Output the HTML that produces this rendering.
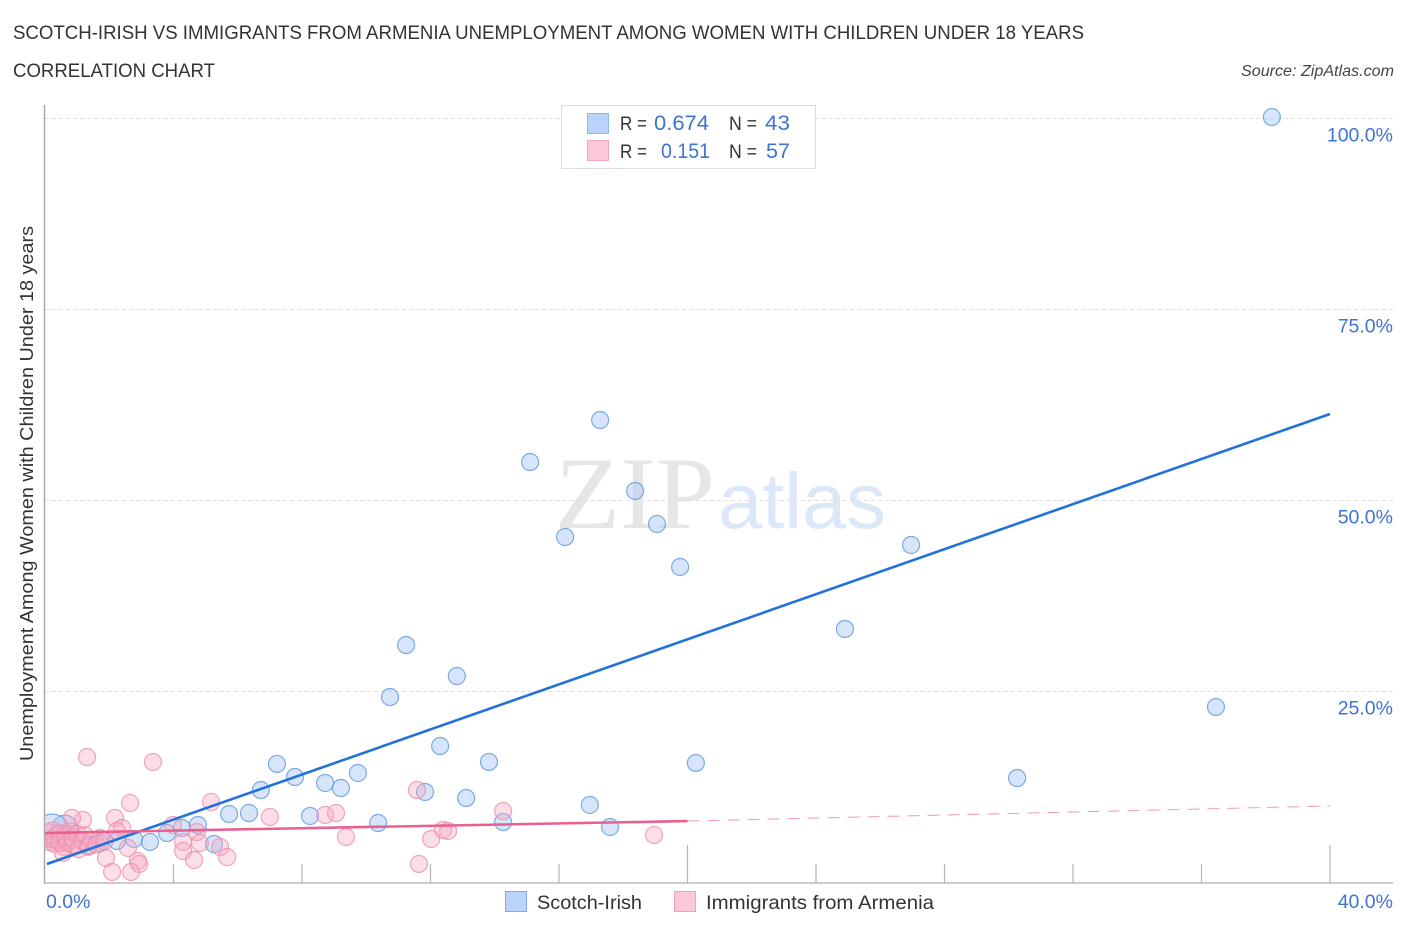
<!DOCTYPE html>
<html lang="en">
<head>
<meta charset="utf-8">
<title>Scotch-Irish vs Immigrants from Armenia Correlation Chart</title>
<style>
html,body{margin:0;padding:0;background:#fff;}
svg{display:block;font-family:"Liberation Sans",sans-serif;}
</style>
</head>
<body>
<svg id="chart" width="1406" height="930" viewBox="0 0 1406 930" xmlns="http://www.w3.org/2000/svg">
  <defs>
    <clipPath id="plot-clip"><rect x="45" y="100" width="1348" height="783"/></clipPath>
  </defs>
  <rect width="1406" height="930" fill="#fff"/>
  <text x="13" y="39" font-size="19" fill="#333" textLength="1071" lengthAdjust="spacingAndGlyphs">SCOTCH-IRISH VS IMMIGRANTS FROM ARMENIA UNEMPLOYMENT AMONG WOMEN WITH CHILDREN UNDER 18 YEARS</text>
  <text x="13" y="77" font-size="19" fill="#333" textLength="202" lengthAdjust="spacingAndGlyphs">CORRELATION CHART</text>
  <text x="1394" y="76" font-size="15.5" font-style="italic" fill="#444" text-anchor="end" textLength="153" lengthAdjust="spacingAndGlyphs">Source: ZipAtlas.com</text>

  <text x="555" y="528" font-family="'Liberation Serif',serif" font-size="103" fill="#e6e6e6" textLength="160" lengthAdjust="spacingAndGlyphs">ZIP</text>
  <text x="718" y="528" font-size="79" fill="#dce8f8" textLength="168" lengthAdjust="spacingAndGlyphs">atlas</text>

  <g id="grid"></g>
  <g id="axes"></g>
  <g id="blue-points" clip-path="url(#plot-clip)"></g>
  <g id="pink-points" clip-path="url(#plot-clip)"></g>
  <g id="trends"></g>
  <g id="y-labels"></g>
  <g id="x-labels"></g>

  <text transform="translate(33,493.5) rotate(-90)" font-size="18.5" fill="#333" text-anchor="middle" textLength="535" lengthAdjust="spacingAndGlyphs">Unemployment Among Women with Children Under 18 years</text>

  <g>
    <rect x="561.5" y="105.5" width="254" height="63" fill="#fff" stroke="#ddd" stroke-width="1"/>
    <rect x="587.5" y="113.5" width="21" height="20" fill="#b9d4f8" stroke="#90b8ec"/>
    <rect x="587.5" y="140.5" width="21" height="20" fill="#fcc8d9" stroke="#f0a8c0"/>
    <text x="620" y="130" font-size="19" fill="#333" textLength="27" lengthAdjust="spacingAndGlyphs">R =</text>
    <text x="654" y="130" font-size="21" fill="#3f73d0" textLength="55" lengthAdjust="spacingAndGlyphs">0.674</text>
    <text x="729" y="130" font-size="19" fill="#333" textLength="28" lengthAdjust="spacingAndGlyphs">N =</text>
    <text x="765" y="130" font-size="21" fill="#3f73d0" textLength="25" lengthAdjust="spacingAndGlyphs">43</text>
    <text x="620" y="158" font-size="19" fill="#333" textLength="27" lengthAdjust="spacingAndGlyphs">R =</text>
    <text x="661" y="158" font-size="21" fill="#3f73d0" textLength="49" lengthAdjust="spacingAndGlyphs">0.151</text>
    <text x="729" y="158" font-size="19" fill="#333" textLength="28" lengthAdjust="spacingAndGlyphs">N =</text>
    <text x="766" y="158" font-size="21" fill="#3f73d0" textLength="24" lengthAdjust="spacingAndGlyphs">57</text>
  </g>

  <g>
    <rect x="505.5" y="891.5" width="21" height="20" fill="#b9d4f8" stroke="#7fabe6"/>
    <text x="537" y="909" font-size="19.5" fill="#333" textLength="105" lengthAdjust="spacingAndGlyphs">Scotch-Irish</text>
    <rect x="674.5" y="891.5" width="21" height="20" fill="#fcc8d9" stroke="#f0a0ba"/>
    <text x="706" y="909" font-size="19.5" fill="#333" textLength="228" lengthAdjust="spacingAndGlyphs">Immigrants from Armenia</text>
  </g>
</svg>
<script>
var yTicks = [100, 75, 50, 25];
var yTickLabels = ["100.0%", "75.0%", "50.0%", "25.0%"];
var xAxisTicks = [0, 4, 8, 12, 16, 20, 24, 28, 32, 36, 40];
var xTickLabels = ["0.0%", "40.0%"];
var xLabelValues = [0, 40];

var blueX = [38.19,17.28,15.10,18.37,19.05,16.19,26.96,19.77,24.90,11.24,12.82,10.74,36.45,12.30,13.82,7.22,20.26,9.74,7.78,30.26,6.72,8.72,9.21,11.83,13.11,16.96,6.35,5.73,8.25,14.26,10.37,17.59,4.76,4.26,3.80,2.77,3.27,5.26,2.24,1.71,1.34,0.62,0.22];
var blueY = [100.13,60.47,54.97,51.18,46.86,45.16,44.11,41.23,33.12,31.02,26.96,24.21,22.91,17.80,15.71,15.45,15.58,14.27,13.74,13.61,12.04,12.96,12.30,11.78,10.99,10.08,9.03,8.90,8.64,7.85,7.72,7.20,7.46,7.07,6.41,5.63,5.24,4.97,5.37,5.10,4.84,7.07,6.68];
var blueWeight = [1,1,1,1,1,1,1,1,1,1,1,1,1,1,1,1,1,1,1,1,1,1,1,1,1,1,1,1,1,1,1,1,1,1,1,1,1,1,1,1,1.2,2.3,4];

var pinkX = [1.31,3.36,2.65,5.17,7.00,2.18,1.18,0.84,3.98,2.40,2.24,4.73,4.30,4.82,4.30,5.45,5.67,4.64,1.90,2.58,2.89,2.93,2.09,2.68,0.56,1.71,11.58,14.26,8.72,9.06,9.37,12.39,12.55,12.02,11.64,18.96,0.10,0.15,0.25,0.30,0.40,0.45,0.50,0.60,0.65,0.70,0.80,0.85,0.90,1.00,1.05,1.15,1.25,1.35,1.45,1.60,1.85];
var pinkY = [16.36,15.71,10.34,10.47,8.51,8.38,8.12,8.38,7.46,7.07,6.68,6.54,5.24,5.10,4.06,4.58,3.27,2.88,3.14,4.45,2.75,2.36,1.31,1.31,3.80,5.76,12.04,9.29,8.77,9.03,5.89,6.81,6.68,5.63,2.36,6.15,6.20,5.20,6.50,5.00,5.80,6.40,5.30,4.60,6.00,5.20,6.60,4.90,5.70,6.30,4.30,5.40,6.10,4.60,5.50,4.90,5.30];
var pinkWeight = [1,1,1,1,1,1,1,1,1,1,1,1,1,1,1,1,1,1,1,1,1,1,1,1,1,1,1,1,1,1,1,1,1,1,1,1,1.6,1,1.5,1,1.7,1,1.4,1,1.3,1,1,1,1.3,1,1,1,1,1,1,1,1];

var blueTrendX = [0.06, 40];
var blueTrendY = [2.36, 61.26];
var pinkTrendX = [0, 20];
var pinkTrendY = [6.41, 7.98];
var pinkForecastX = [20, 40];
var pinkForecastY = [7.98, 9.95];

function xScale(v) { return 45 + v * 32.125; }
function yScale(v) { return 882 - v * 7.64; }

var NS = "http://www.w3.org/2000/svg";
function make(tag, parentId, attrs) {
  var el = document.createElementNS(NS, tag);
  for (var k in attrs) { el.setAttribute(k, attrs[k]); }
  document.getElementById(parentId).appendChild(el);
  return el;
}

yTicks.forEach(function (v) {
  var g = make("line", "grid", {x1: 45, x2: 1393, y1: yScale(v) + 0.5, y2: yScale(v) + 0.5, stroke: "#e0e0e0", "stroke-width": 1, "stroke-dasharray": "4 3"});
  
  
});

var yAxisLine = make("line", "axes", {x1: 44.5, x2: 44.5, y1: 105, y2: 884, stroke: "#aaa", "stroke-width": 1.5});


var xAxisLine = make("line", "axes", {x1: 44, x2: 1393, y1: 883, y2: 883, stroke: "#bbb", "stroke-width": 1.5});



xAxisTicks.forEach(function (v, i) {
  if (i === 0) { return; }
  var tall = i % 5 === 0;
  var t = make("line", "axes", {x1: xScale(v), x2: xScale(v), y1: tall ? 845 : 864, y2: 883, stroke: "#b5b5b5", "stroke-width": 1.2});
  
  
});

blueX.forEach(function (v, i) {
  var c = make("circle", "blue-points", {cx: xScale(v), cy: yScale(blueY[i]), r: 8.5 * Math.sqrt(blueWeight[i]), fill: "#a3c6f2", "fill-opacity": 0.45, stroke: "#5f97dd", "stroke-opacity": 0.8, "stroke-width": 1.2});
  
  
});

pinkX.forEach(function (v, i) {
  var c = make("circle", "pink-points", {cx: xScale(v), cy: yScale(pinkY[i]), r: 8.5 * Math.sqrt(pinkWeight[i]), fill: "#f7a8c2", "fill-opacity": 0.38, stroke: "#ee8fae", "stroke-opacity": 0.8, "stroke-width": 1.2});
  
  
});

var blueTrend = make("line", "trends", {x1: xScale(blueTrendX[0]), y1: yScale(blueTrendY[0]), x2: xScale(blueTrendX[1]), y2: yScale(blueTrendY[1]), stroke: "#2272d8", "stroke-width": 2.6});


var pinkTrend = make("line", "trends", {x1: xScale(pinkTrendX[0]), y1: yScale(pinkTrendY[0]), x2: xScale(pinkTrendX[1]), y2: yScale(pinkTrendY[1]), stroke: "#e8608f", "stroke-width": 2.6});


var pinkForecast = make("line", "trends", {x1: xScale(pinkForecastX[0]), y1: yScale(pinkForecastY[0]), x2: xScale(pinkForecastX[1]), y2: yScale(pinkForecastY[1]), stroke: "#ef9ab6", "stroke-width": 1, "stroke-dasharray": "12 8"});



yTicks.forEach(function (v, i) {
  var t = make("text", "y-labels", {x: 1393, y: yScale(v) + 23.5, "text-anchor": "end", "font-size": 19.5, fill: "#3f73d0"});
  t.textContent = yTickLabels[i];
  
  
});

xLabelValues.forEach(function (v, i) {
  var t = make("text", "x-labels", {x: i === 0 ? xScale(v) + 1 : 1393, y: 908, "text-anchor": i === 0 ? "start" : "end", "font-size": 19.5, fill: "#3f73d0"});
  t.textContent = xTickLabels[i];
  
  
});
</script>
</body>
</html>
